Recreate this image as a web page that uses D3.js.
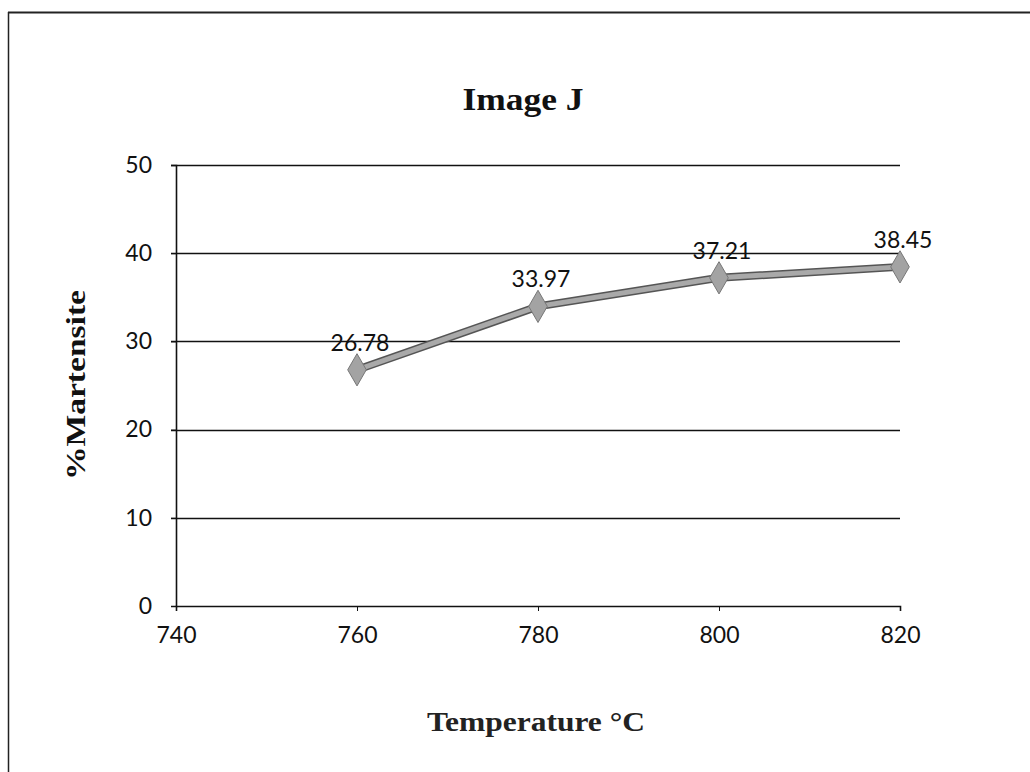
<!DOCTYPE html>
<html><head><meta charset="utf-8">
<script src="https://cdn.jsdelivr.net/npm/d3@7"></script>
<style>body{margin:0;background:#fff}</style>
</head><body><svg id="c" width="1030" height="772"></svg>
<script>
const temps = [760, 780, 800, 820];
const martensite = [26.78, 33.97, 37.21, 38.45];
const xTicks = [740, 760, 780, 800, 820];
const yTicks = [0, 10, 20, 30, 40, 50];

const svg = d3.select("#c");
const m = {l: 176, r: 900, t: 165, b: 606};
const x = d3.scaleLinear().domain([740, 820]).range([m.l, m.r]);
const y = d3.scaleLinear().domain([0, 50]).range([m.b, m.t]);
const sans = "Lato, 'Open Sans', sans-serif";
const serif = "'Liberation Serif', 'DejaVu Serif', serif";

// outer border
svg.append("line").attr("x1", 8).attr("x2", 1030).attr("y1", 12.5).attr("y2", 12.5).attr("stroke", "#222").attr("stroke-width", 2);
svg.append("line").attr("x1", 8.5).attr("x2", 8.5).attr("y1", 12).attr("y2", 772).attr("stroke", "#222").attr("stroke-width", 1.5);

// gridlines
svg.append("g").selectAll("line").data(yTicks.filter(d => d > 0)).join("line")
  .attr("x1", m.l - 5).attr("x2", m.r).attr("y1", d => Math.round(y(d)) + 0.5).attr("y2", d => Math.round(y(d)) + 0.5)
  .attr("stroke", "#111").attr("stroke-width", 1.3);

// y axis
const yAxis = svg.append("g").attr("transform", `translate(${m.l},0)`)
  .call(d3.axisLeft(y).tickValues(yTicks).tickSize(5).tickPadding(19));
yAxis.select(".domain").attr("stroke", "#111").attr("stroke-width", 1.6);
yAxis.selectAll(".tick line").attr("stroke", "#111");
yAxis.selectAll("text").attr("font-family", sans).attr("font-size", 23).attr("fill", "#111");

// x axis
const xAxis = svg.append("g").attr("transform", `translate(0,${m.b})`)
  .call(d3.axisBottom(x).tickValues(xTicks).tickSize(5).tickPadding(16));
xAxis.select(".domain").attr("stroke", "#111").attr("stroke-width", 1.6);
xAxis.selectAll(".tick line").attr("stroke", "#111");
xAxis.selectAll("text").attr("font-family", sans).attr("font-size", 23).attr("fill", "#111");

const data = temps.map((t, i) => ({t, v: martensite[i]}));

// line
const line = d3.line().x(d => x(d.t)).y(d => y(d.v));
svg.append("path").datum(data).attr("d", line).attr("fill", "none").attr("stroke", "#555").attr("stroke-width", 8);
svg.append("path").datum(data).attr("d", line).attr("fill", "none").attr("stroke", "#a9a9a9").attr("stroke-width", 5);

// markers
svg.append("g").selectAll("path").data(data).join("path")
  .attr("d", d3.symbol().type(d3.symbolDiamond).size(300))
  .attr("transform", d => `translate(${x(d.t)},${y(d.v)})`)
  .attr("fill", "#a3a3a3").attr("stroke", "#777").attr("stroke-width", 1);

// data labels
svg.append("g").selectAll("text").data(data).join("text")
  .attr("x", d => x(d.t) + 3).attr("y", d => y(d.v) - 19)
  .attr("text-anchor", "middle").attr("font-family", sans)
  .attr("font-size", 23).attr("fill", "#111").text(d => d.v.toFixed(2));

// title
svg.append("text").attr("x", 523).attr("y", 110).attr("text-anchor", "middle")
  .attr("font-family", serif).attr("font-weight", "bold").attr("font-size", 31)
  .attr("textLength", 121).attr("lengthAdjust", "spacingAndGlyphs")
  .attr("fill", "#111").text("Image J");

// y title
svg.append("text").attr("transform", "translate(85,385) rotate(-90)").attr("text-anchor", "middle")
  .attr("font-family", serif).attr("font-weight", "bold").attr("font-size", 28)
  .attr("textLength", 190).attr("lengthAdjust", "spacingAndGlyphs")
  .attr("fill", "#111").text("%Martensite");

// x title
svg.append("text").attr("x", 536).attr("y", 731).attr("text-anchor", "middle")
  .attr("font-family", serif).attr("font-weight", "bold").attr("font-size", 28)
  .attr("textLength", 218).attr("lengthAdjust", "spacingAndGlyphs")
  .attr("fill", "#222").text("Temperature °C");
</script></body></html>
